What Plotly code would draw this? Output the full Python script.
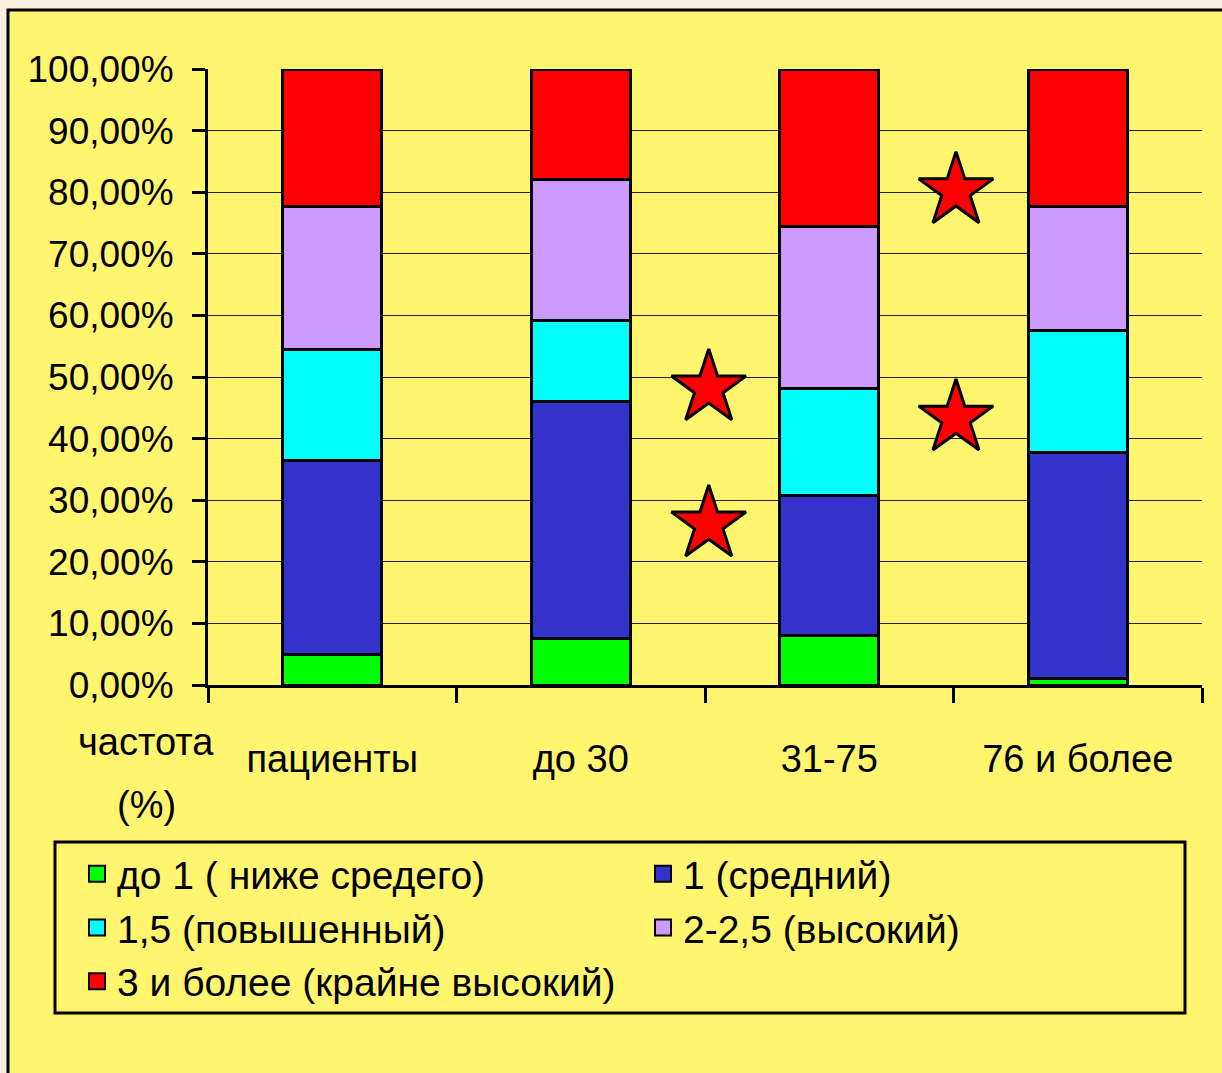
import plotly.graph_objects as go

categories = ["пациенты", "до 30", "31-75", "76 и более"]
series_names = ["до 1 ( ниже средего)", "1 (средний)", "1,5 (повышенный)",
                "2-2,5 (высокий)", "3 и более (крайне высокий)"]
green_vals = [5.0, 7.6, 8.1, 1.1]
blue_vals = [31.5, 38.5, 22.6, 36.6]
cyan_vals = [18.0, 13.0, 17.4, 19.9]
purple_vals = [23.1, 22.9, 26.4, 20.0]
red_vals = [22.4, 18.0, 25.5, 22.4]
colors = ["#00FF00", "#3333CC", "#00FFFF", "#CC99FF", "#FF0000"]

y_ticks = list(range(0, 101, 10))
y_ticktext = [f"{v},00%" for v in y_ticks]

star_x = [1.515, 1.515, 2.51, 2.51]
star_y = [48.2, 26.1, 80.2, 43.3]

FONT = "Liberation Sans, Arial, sans-serif"
YELLOW = "#FFF56E"
CREAM = "#F6EEDF"

# plot area geometry (pixels) used for paper-coordinate conversions
L, R, T, B = 208, 1202, 69, 685
def px(x):
    return (x - L) / (R - L)
def py(y):
    return (B - y) / (B - T)

x_pos = list(range(len(categories)))
fig = go.Figure()
all_vals = [green_vals, blue_vals, cyan_vals, purple_vals, red_vals]
for name, vals, col in zip(series_names, all_vals, colors):
    fig.add_trace(go.Bar(x=x_pos, y=vals, name=name, width=0.4, showlegend=False,
                         marker=dict(color=col, line=dict(color="black", width=3))))
# legend entries (square swatches)
for name, col in zip(series_names, colors):
    fig.add_trace(go.Scatter(x=[None], y=[None], mode="markers", name=name,
                             marker=dict(symbol="square", size=16, color=col,
                                         line=dict(color="black", width=2))))

fig.add_trace(go.Scatter(x=star_x, y=star_y, mode="markers", showlegend=False,
                         marker=dict(symbol="star", size=56, color="#FF0000",
                                     line=dict(color="black", width=3))))

# outer yellow frame
fig.add_shape(type="rect", xref="paper", yref="paper",
              x0=px(8), x1=px(1300), y0=py(1150), y1=py(10),
              fillcolor=YELLOW, line=dict(color="black", width=3), layer="below")
# legend frame
fig.add_shape(type="rect", xref="paper", yref="paper",
              x0=px(55), x1=px(1185), y0=py(1013), y1=py(842),
              fillcolor="rgba(0,0,0,0)", line=dict(color="black", width=3), layer="below")

fig.add_annotation(text="частота", xref="paper", yref="paper",
                   x=px(146), y=py(742), xanchor="center", yanchor="middle",
                   showarrow=False, font=dict(family=FONT, size=38, color="black"))
fig.add_annotation(text="(%)", xref="paper", yref="paper",
                   x=px(146), y=py(805), xanchor="center", yanchor="middle",
                   showarrow=False, font=dict(family=FONT, size=38, color="black"))

fig.update_layout(
    width=1222, height=1073,
    margin=dict(l=L, r=1222 - R, t=T, b=1073 - B, autoexpand=False),
    paper_bgcolor=CREAM, plot_bgcolor="rgba(0,0,0,0)",
    barmode="stack",
    font=dict(family=FONT, size=38, color="black"),
    showlegend=True,
    legend=dict(orientation="h", x=px(77), xanchor="left",
                y=py(842), yanchor="top",
                bgcolor="rgba(0,0,0,0)", borderwidth=0,
                traceorder="normal", entrywidth=521, itemsizing="trace",
                font=dict(family=FONT, size=39, color="black")),
)
fig.update_xaxes(range=[-0.5, 3.5], tickmode="array", tickvals=x_pos, ticktext=categories,
                 ticks="", showline=True, linecolor="black", linewidth=3,
                 showgrid=False, zeroline=False, ticklabelstandoff=38,
                 minor=dict(tickvals=[-0.5, 0.5, 1.5, 2.5, 3.5], ticks="outside",
                            ticklen=15, tickwidth=3, tickcolor="black", showgrid=False),
                 tickfont=dict(family=FONT, size=38, color="black"))
fig.update_yaxes(range=[0, 100], tickmode="array", tickvals=y_ticks, ticktext=y_ticktext,
                 ticks="outside", ticklen=13, tickwidth=3, tickcolor="black",
                 showline=True, linecolor="black", linewidth=3,
                 showgrid=True, gridcolor="#222222", gridwidth=1, zeroline=False,
                 ticklabelstandoff=11,
                 tickfont=dict(family=FONT, size=37, color="black"))

fig.write_html("out.html")
